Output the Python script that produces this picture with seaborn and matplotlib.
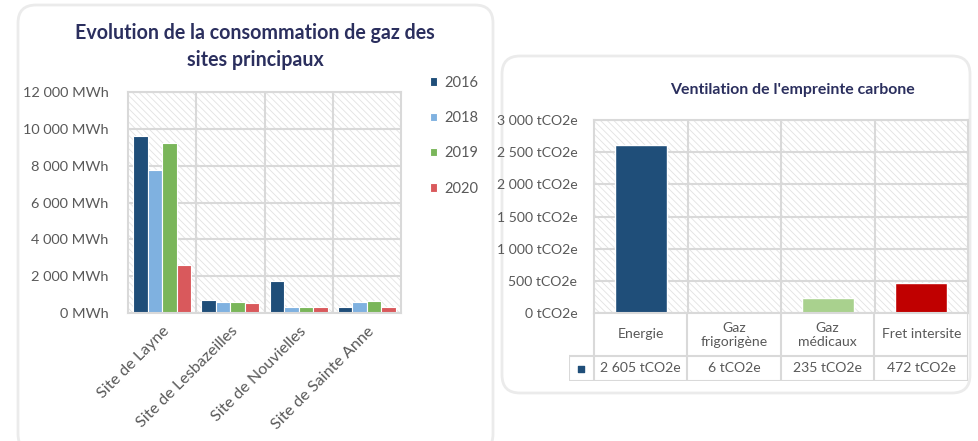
import seaborn as sns
import matplotlib.pyplot as plt
import matplotlib.patches as mpatches
from matplotlib.transforms import IdentityTransform
from matplotlib.ticker import FuncFormatter, MultipleLocator
import pandas as pd

# --- data : consommation de gaz (MWh) ---
sites = ["Site de Layne", "Site de Lesbazeilles", "Site de Nouvielles", "Site de Sainte Anne"]
annees = ["2016", "2018", "2019", "2020"]
gaz_2016 = [9600, 700, 1750, 320]
gaz_2018 = [7750, 600, 350, 600]
gaz_2019 = [9250, 600, 350, 650]
gaz_2020 = [2600, 550, 300, 320]
couleurs_annees = ["#1F4E79", "#7FB1E0", "#7AB65A", "#D9595C"]

# --- data : empreinte carbone (tCO2e) ---
postes = ["Energie", "Gaz\nfrigorigène", "Gaz\nmédicaux", "Fret intersite"]
empreinte = [2605, 6, 235, 472]
couleurs_postes = ["#1F4E79", "#1F4E79", "#A9D18E", "#C00000"]

sns.set_style("white")
plt.rcParams["font.family"] = ["Lato", "DejaVu Sans"]
plt.rcParams["hatch.color"] = "#E2E2E2"
plt.rcParams["hatch.linewidth"] = 0.6

GRID = "#D9D9D9"
TXT = "#595959"
TITLE = "#2B2F5E"
W, H = 979, 441

fig = plt.figure(figsize=(9.79, 4.41), dpi=100)
renderer = fig.canvas.get_renderer()


def fit(s, width_px, weight="normal"):
    # font size giving a text of about width_px pixels
    t = fig.text(0, 0, s, fontsize=10, fontweight=weight)
    w = t.get_window_extent(renderer).width
    t.remove()
    return 10 * width_px / w


FS_LEFT = fit("12 000 MWh", 80) * 1.07
FS_LEG = fit("2016", 32) * 1.07
FS_RIGHT = fit("3 000 tCO2e", 75) * 1.07
FS_T1 = fit("Evolution de la consommation de gaz des", 360, "bold")
FS_T2 = fit("Ventilation de l'empreinte carbone", 246, "bold")


def frac(x0, y0, x1, y1):
    # pixel box (top-left origin) -> figure fraction
    return [x0 / W, (H - y1) / H, (x1 - x0) / W, (y1 - y0) / H]


# cards
for (x0, y0, x1, y1) in [(18, 5, 493, 452), (502, 56, 970, 393)]:
    card = mpatches.FancyBboxPatch((x0, H - y1), x1 - x0, y1 - y0,
                                   boxstyle="round,pad=0,rounding_size=18",
                                   transform=IdentityTransform(),
                                   facecolor="white", edgecolor="#EBEBEB", lw=2,
                                   zorder=-5)
    fig.patches.append(card)


def style_axes(ax, fs):
    ax.patch.set_facecolor("white")
    ax.patch.set_hatch("\\\\\\\\\\")
    ax.patch.set_edgecolor("#E2E2E2")
    ax.yaxis.grid(True, color=GRID, lw=1.5)
    ax.set_axisbelow(True)
    for s in ax.spines.values():
        s.set_visible(True)
        s.set_color(GRID)
        s.set_linewidth(1.5)
    for xv in [0.5, 1.5, 2.5]:
        ax.axvline(xv, color=GRID, lw=1.5, zorder=0.5)
    ax.tick_params(length=0, colors=TXT, labelsize=fs)
    ax.set_xlim(-0.5, 3.5)
    ax.set_xlabel("")
    ax.set_ylabel("")


# ---------------- left chart ----------------
df = pd.DataFrame({
    "site": sites * 4,
    "annee": [a for a in annees for _ in sites],
    "mwh": gaz_2016 + gaz_2018 + gaz_2019 + gaz_2020,
})
ax1 = fig.add_axes(frac(128, 92, 401, 313))
sns.barplot(data=df, x="site", y="mwh", hue="annee", palette=couleurs_annees,
            saturation=1, width=0.85, edgecolor="white", linewidth=0.8,
            ax=ax1, zorder=2)
style_axes(ax1, FS_LEFT)
ax1.set_ylim(0, 12000)
ax1.yaxis.set_major_locator(MultipleLocator(2000))
ax1.yaxis.set_major_formatter(FuncFormatter(
    lambda v, p: f"{int(v):,}".replace(",", " ") + " MWh"))
ax1.tick_params(axis="y", pad=14)
ax1.tick_params(axis="x", pad=8, labelsize=FS_LEFT * 1.12)
plt.setp(ax1.get_xticklabels(), rotation=45, ha="right", rotation_mode="anchor")
h, l = ax1.get_legend_handles_labels()
ax1.legend(h, l, loc="upper left", bbox_to_anchor=(424 / W, 1 - 70 / H),
           bbox_transform=fig.transFigure, frameon=False, fontsize=FS_LEG,
           handlelength=0.5, handleheight=0.5, handletextpad=0.5,
           labelspacing=1.45, labelcolor=TXT, borderaxespad=0)
fig.text(255 / W, 1 - 33 / H, "Evolution de la consommation de gaz des",
         ha="center", va="center", fontsize=FS_T1, fontweight="bold", color=TITLE)
fig.text(255 / W, 1 - 60 / H, "sites principaux",
         ha="center", va="center", fontsize=FS_T1, fontweight="bold", color=TITLE)

# ---------------- right chart ----------------
ax2 = fig.add_axes(frac(594, 120, 968, 313))
sns.barplot(x=postes, y=empreinte, hue=postes, palette=couleurs_postes,
            saturation=1, width=0.56, legend=False, ax=ax2, zorder=2)
style_axes(ax2, FS_RIGHT)
ax2.set_ylim(0, 3000)
ax2.yaxis.set_major_locator(MultipleLocator(500))
ax2.yaxis.set_major_formatter(FuncFormatter(
    lambda v, p: f"{int(v):,}".replace(",", " ") + " tCO2e"))
ax2.tick_params(axis="y", pad=12)
ax2.set_xticklabels([])
fig.text(792 / W, 1 - 90 / H, "Ventilation de l'empreinte carbone",
         ha="center", va="center", fontsize=FS_T2, fontweight="bold", color=TITLE)

# data table under right chart
key_w = 25 / 93.5
ax3 = fig.add_axes(frac(569, 313, 968, 381))
ax3.set_xlim(-0.5 - key_w, 3.5)
ax3.set_ylim(0, 1)
ax3.axis("off")
row = 25 / 68
for xv in [-0.5, 0.5, 1.5, 2.5, 3.5]:
    ax3.plot([xv, xv], [0, 1], color=GRID, lw=1.5)
ax3.plot([-0.5 - key_w] * 2, [0, row], color=GRID, lw=1.5)
ax3.plot([-0.5 - key_w, 3.5], [row, row], color=GRID, lw=1.5)
ax3.plot([-0.5 - key_w, 3.5], [0, 0], color=GRID, lw=1.5)
ax3.scatter([-0.5 - key_w / 2], [row / 2], marker="s", s=22, color="#1F4E79")
for i, (p, v) in enumerate(zip(postes, empreinte)):
    ax3.text(i, (1 + row) / 2, p, ha="center", va="center", fontsize=FS_RIGHT,
             color=TXT, linespacing=1.2)
    ax3.text(i, row / 2, f"{v:,} tCO2e".replace(",", " "), ha="center",
             va="center", fontsize=FS_RIGHT, color=TXT)

fig.savefig("out.png", dpi=100)
